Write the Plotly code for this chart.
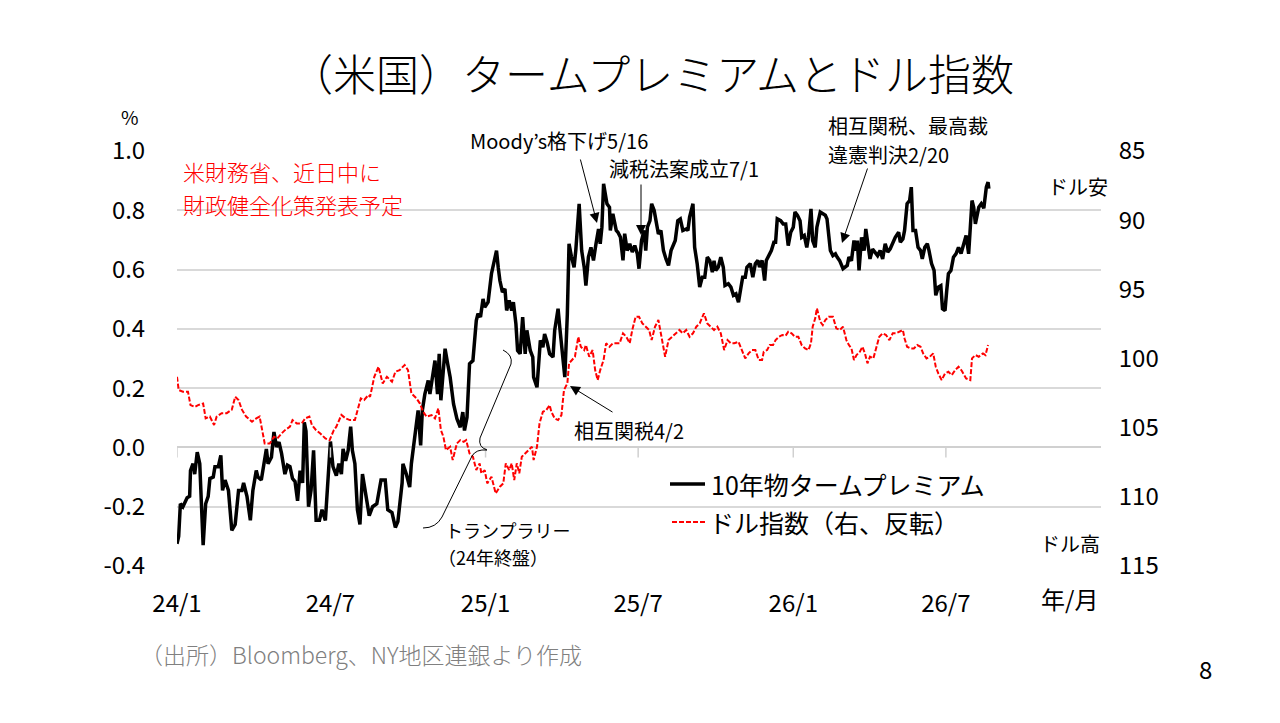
import pandas as pd
import plotly.graph_objects as go

FONT = "Noto Sans CJK JP"

# 10y term premium (%), day offsets from 2024-01-01
tp_day = [0, 2, 4, 7, 12, 15, 16, 19, 21, 24, 27, 31, 34, 37, 39, 43, 45, 49, 52, 54,
          57, 61, 65, 69, 73, 77, 79, 83, 87, 90, 94, 96, 100, 103, 106, 108, 112, 115, 118, 121,
          124, 128, 131, 134, 137, 140, 143, 146, 149, 151, 153, 156, 159, 162, 165, 169, 172, 176, 179, 182,
          185, 189, 192, 195, 197, 200, 203, 206, 208, 211, 214, 217, 220, 224, 228, 232, 237, 242, 247, 250,
          255, 259, 262, 267, 268, 272, 276, 278, 281, 284, 286, 289, 291, 294, 298, 300, 303, 306, 309, 311,
          313, 316, 318, 321, 324, 328, 332, 336, 339, 341, 344, 347, 351, 355, 357, 360, 363, 365, 369, 373,
          376, 379, 381, 383, 386, 389, 391, 394, 397, 399, 402, 404, 407, 410, 413, 415, 419, 422, 423, 427,
          431, 434, 436, 439, 442, 446, 448, 452, 454, 457, 460, 463, 465, 468, 471, 473, 477, 480, 483, 485,
          488, 491, 494, 497, 500, 502, 504, 506, 510, 513, 514, 517, 521, 523, 526, 529, 531, 534, 537, 540,
          543, 546, 548, 551, 554, 556, 558, 561, 563, 566, 569, 571, 574, 577, 580, 583, 586, 589, 591, 594,
          597, 600, 604, 606, 608, 612, 614, 617, 620, 623, 626, 629, 632, 635, 637, 639, 642, 645, 648, 650,
          654, 657, 660, 663, 666, 669, 671, 674, 676, 680, 683, 686, 689, 691, 694, 697, 699, 703, 705, 708,
          710, 712, 716, 719, 722, 725, 728, 731, 733, 736, 739, 741, 744, 747, 749, 752, 754, 757, 759, 763,
          766, 769, 771, 775, 778, 781, 783, 786, 790, 792, 795, 797, 800, 803, 805, 807, 809, 812, 815, 817,
          820, 822, 825, 828, 831, 834, 837, 840, 843, 846, 849, 852, 856, 858, 861, 863, 866, 869, 871, 873,
          876, 879, 882, 884, 887, 890, 892, 895, 898, 900, 903, 906, 908, 911, 913, 915, 918, 921, 924, 927,
          930, 933, 936, 939, 943, 945, 947, 951, 954, 957, 960, 962, 963]
tp_val = [-0.325, -0.30, -0.19, -0.20, -0.17, -0.165, -0.078, -0.055, -0.09, -0.016, -0.055, -0.33, -0.19, -0.165, -0.105, -0.10, -0.065, -0.065, -0.027, -0.145,
          -0.11, -0.145, -0.28, -0.26, -0.145, -0.145, -0.12, -0.165, -0.246, -0.145, -0.078, -0.10, -0.11, -0.065, -0.005, -0.055, -0.033, 0.052, 0.002, 0.018,
          -0.02, -0.09, -0.06, -0.065, -0.105, -0.115, -0.18, -0.078, -0.12, 0.085, 0.055, -0.20, -0.145, -0.01, -0.246, -0.246, -0.21, -0.246, -0.09, 0.02,
          -0.065, -0.095, -0.055, -0.09, -0.005, -0.045, -0.01, 0.07, -0.01, -0.055, -0.21, -0.26, -0.09, -0.17, -0.23, -0.20, -0.19, -0.11, -0.11, -0.21,
          -0.22, -0.27, -0.25, -0.12, -0.055, -0.09, -0.134, -0.055, 0.024, 0.08, 0.125, 0.007, 0.125, 0.18, 0.226, 0.18, 0.237, 0.293, 0.18, 0.316,
          0.159, 0.248, 0.333, 0.283, 0.237, 0.147, 0.097, 0.068, 0.119, 0.057, 0.102, 0.282, 0.293, 0.428, 0.451, 0.44, 0.501, 0.473, 0.49, 0.586,
          0.631, 0.664, 0.608, 0.563, 0.524, 0.535, 0.462, 0.496, 0.462, 0.49, 0.417, 0.327, 0.316, 0.44, 0.316, 0.395, 0.327, 0.305, 0.237, 0.203,
          0.361, 0.338, 0.383, 0.355, 0.316, 0.305, 0.395, 0.468, 0.406, 0.327, 0.237, 0.45, 0.687, 0.642, 0.608, 0.664, 0.822, 0.664, 0.608, 0.546,
          0.642, 0.675, 0.631, 0.687, 0.737, 0.687, 0.743, 0.889, 0.822, 0.81, 0.732, 0.788, 0.732, 0.726, 0.709, 0.631, 0.721, 0.664, 0.687, 0.659,
          0.681, 0.653, 0.603, 0.698, 0.732, 0.664, 0.743, 0.765, 0.822, 0.799, 0.749, 0.72, 0.732, 0.664, 0.636, 0.614, 0.664, 0.681, 0.698, 0.765,
          0.771, 0.732, 0.737, 0.732, 0.777, 0.822, 0.675, 0.62, 0.541, 0.574, 0.574, 0.642, 0.63, 0.591, 0.63, 0.597, 0.608, 0.642, 0.608, 0.546,
          0.552, 0.541, 0.513, 0.518, 0.49, 0.541, 0.574, 0.574, 0.608, 0.62, 0.574, 0.62, 0.631, 0.608, 0.631, 0.563, 0.631, 0.653, 0.664, 0.692,
          0.692, 0.771, 0.765, 0.754, 0.754, 0.681, 0.726, 0.743, 0.794, 0.783, 0.765, 0.709, 0.715, 0.675, 0.709, 0.805, 0.698, 0.675, 0.743, 0.794,
          0.788, 0.783, 0.771, 0.664, 0.647, 0.653, 0.642, 0.63, 0.603, 0.608, 0.614, 0.642, 0.63, 0.698, 0.664, 0.698, 0.597, 0.709, 0.664, 0.737,
          0.686, 0.636, 0.669, 0.659, 0.647, 0.664, 0.636, 0.687, 0.659, 0.67, 0.692, 0.709, 0.726, 0.692, 0.703, 0.732, 0.822, 0.833, 0.878, 0.732,
          0.732, 0.675, 0.664, 0.636, 0.675, 0.687, 0.664, 0.62, 0.597, 0.513, 0.541, 0.546, 0.468, 0.462, 0.529, 0.586, 0.597, 0.642, 0.653, 0.675,
          0.654, 0.687, 0.715, 0.653, 0.833, 0.81, 0.754, 0.81, 0.822, 0.807, 0.878, 0.895, 0.873]

# dollar index (right axis, inverted), day offsets from 2024-01-01
dxy_day = [0, 2, 7, 13, 16, 21, 25, 31, 34, 39, 44, 47, 53, 59, 65, 69, 73, 77, 82, 89,
           94, 98, 104, 110, 115, 119, 124, 128, 134, 137, 142, 148, 152, 157, 160, 165, 170, 176, 181, 186,
           189, 195, 200, 205, 211, 215, 218, 222, 227, 229, 234, 239, 244, 249, 255, 259, 264, 270, 274, 278,
           284, 288, 292, 296, 302, 306, 310, 313, 316, 319, 324, 327, 332, 336, 340, 343, 347, 351, 355, 359,
           361, 365, 368, 373, 378, 383, 387, 390, 394, 397, 400, 403, 406, 409, 413, 417, 421, 423, 427, 430,
           434, 438, 442, 444, 448, 452, 456, 459, 463, 465, 468, 472, 476, 479, 483, 485, 489, 493, 496, 499,
           502, 506, 509, 513, 517, 521, 525, 529, 533, 537, 540, 544, 548, 552, 556, 560, 563, 567, 571, 575,
           579, 583, 587, 591, 596, 600, 604, 608, 612, 616, 620, 625, 629, 633, 637, 641, 645, 649, 653, 657,
           661, 666, 670, 674, 678, 682, 686, 690, 694, 696, 700, 703, 707, 710, 714, 718, 722, 725, 729, 733,
           737, 741, 745, 749, 752, 754, 757, 759, 763, 766, 769, 773, 778, 782, 786, 790, 794, 797, 800, 803,
           806, 810, 813, 816, 819, 822, 826, 830, 833, 837, 841, 845, 849, 853, 857, 861, 863, 866, 870, 874,
           878, 882, 885, 889, 893, 897, 900, 903, 907, 911, 915, 919, 923, 927, 931, 936, 941, 943, 947, 951,
           956, 959, 962]
dxy_val = [101.32, 102.28, 102.4, 102.4, 103.37, 103.5, 103.37, 103.25, 104.33, 104.2, 104.81, 104.2, 103.95, 103.95, 103.7, 102.77, 103.0, 103.7, 104.2, 104.57,
           104.33, 104.2, 106.14, 106.14, 105.66, 105.78, 105.42, 105.18, 104.93, 104.45, 104.69, 104.69, 104.33, 104.2, 104.81, 105.18, 105.42, 105.78, 105.9, 105.18,
           104.93, 104.08, 104.33, 104.45, 104.45, 103.58, 102.88, 103.0, 102.64, 102.77, 101.32, 100.6, 101.8, 101.32, 101.68, 100.96, 100.84, 100.47, 100.84, 102.52,
           102.88, 103.24, 103.85, 104.21, 104.09, 104.33, 103.6, 105.17, 105.66, 106.62, 106.38, 107.34, 106.14, 105.9, 106.02, 105.9, 106.86, 107.1, 108.07, 107.58,
           108.3, 108.07, 109.03, 108.55, 109.75, 109.27, 109.03, 107.58, 108.07, 107.58, 108.79, 107.58, 108.3, 107.1, 106.86, 106.62, 106.38, 107.34, 106.38, 104.69,
           103.85, 103.73, 103.37, 103.85, 104.33, 104.45, 104.09, 102.28, 101.8, 100.35, 100.11, 99.87, 98.43, 99.15, 99.39, 99.03, 99.87, 99.39, 100.84, 101.56,
           100.84, 100.11, 98.9, 99.15, 98.9, 98.9, 98.9, 98.18, 98.43, 98.9, 97.94, 96.98, 96.98, 97.46, 97.7, 97.94, 98.67, 97.7, 97.22, 98.67,
           99.87, 98.67, 98.43, 98.18, 97.94, 98.18, 97.94, 98.43, 98.18, 97.7, 97.46, 96.74, 97.46, 97.7, 97.94, 97.7, 98.18, 99.39, 98.67, 98.9,
           98.9, 98.79, 99.39, 99.99, 99.63, 99.39, 99.39, 100.11, 100.11, 99.51, 99.39, 99.03, 99.03, 98.67, 98.43, 98.3, 98.35, 98.07, 98.18, 98.43,
           98.43, 99.03, 99.27, 99.39, 98.9, 97.7, 97.1, 96.37, 97.34, 97.58, 97.22, 96.98, 96.98, 97.82, 97.94, 97.7, 98.67, 99.03, 99.27, 100.11,
           99.75, 99.51, 99.15, 99.63, 100.35, 99.87, 99.99, 99.03, 98.43, 98.18, 98.3, 98.67, 98.18, 98.18, 98.07, 97.94, 98.55, 99.15, 99.27, 99.27,
           99.03, 99.15, 99.63, 99.99, 99.87, 99.63, 100.6, 101.08, 101.56, 101.08, 100.96, 101.2, 100.84, 100.6, 100.9, 101.44, 101.56, 99.99, 99.75, 99.87,
           99.63, 99.75, 99.03]

x_ticks = ["2024-01-01", "2024-07-01", "2025-01-01", "2025-07-01", "2026-01-01", "2026-07-01"]
x_labels = ["24/1", "24/7", "25/1", "25/7", "26/1", "26/7"]
y_ticks = [-0.4, -0.2, 0.0, 0.2, 0.4, 0.6, 0.8, 1.0]
y_labels = ["-0.4", "-0.2", "0.0", "0.2", "0.4", "0.6", "0.8", "1.0"]
y2_ticks = [85, 90, 95, 100, 105, 110, 115]

start = pd.Timestamp("2024-01-01")
tp_date = start + pd.to_timedelta(tp_day, unit="D")
dxy_date = start + pd.to_timedelta(dxy_day, unit="D")

# plot area in page pixels (the page body adds an 8px margin around the figure)
OFF = 8
L, R, T, B = 177, 1101, 151, 566
FW, FH = 1280 - 2 * OFF, 723 - 2 * OFF


def px(x, y):
    return (x - L) / (R - L), (B - y) / (B - T)


fig = go.Figure()
fig.add_trace(go.Scatter(x=dxy_date, y=dxy_val, yaxis="y2", mode="lines",
                         line=dict(color="#ff0000", width=2, dash="5px,2px"),
                         name="ドル指数（右、反転）"))
fig.add_trace(go.Scatter(x=tp_date, y=tp_val, mode="lines",
                         line=dict(color="black", width=3.5),
                         name="10年物タームプレミアム"))

fig.update_layout(
    width=FW, height=FH,
    margin=dict(l=L - OFF, r=OFF + FW - R, t=T - OFF, b=OFF + FH - B),
    paper_bgcolor="white", plot_bgcolor="white",
    showlegend=False,
    font=dict(family=FONT, color="black"),
    xaxis=dict(type="date", range=["2024-01-01", "2027-01-01"],
               tickvals=x_ticks, ticktext=x_labels, tickfont=dict(size=24),
               showgrid=False, zeroline=False, showline=False,
               ticks="outside", ticklen=16, tickcolor="rgba(0,0,0,0)"),
    yaxis=dict(range=[-0.4, 1.0], tickvals=y_ticks, ticktext=y_labels,
               tickfont=dict(size=24), showgrid=True, gridcolor="#d9d9d9", gridwidth=1.5,
               zeroline=True, zerolinecolor="#d0d0d0", zerolinewidth=2,
               ticks="outside", ticklen=26, tickcolor="rgba(0,0,0,0)"),
    yaxis2=dict(range=[115, 85], tickvals=y2_ticks, overlaying="y", side="right",
                tickfont=dict(size=24), showgrid=False, zeroline=False,
                ticks="outside", ticklen=12, tickcolor="rgba(0,0,0,0)"),
)

# small tick marks under the zero line
for d in x_ticks:
    fig.add_shape(type="line", xref="x", yref="y", x0=d, x1=d, y0=0, y1=-0.034,
                  line=dict(color="#d0d0d0", width=1.5))


def note(text, x, y, size=20, color="black", xanchor="left", weight=None):
    ax_, ay_ = px(x, y)
    f = dict(family=FONT, size=size, color=color)
    if weight:
        f["weight"] = weight
    fig.add_annotation(text=text, x=ax_, y=ay_, xref="paper", yref="paper",
                       xanchor=xanchor, yanchor="middle", align="left", showarrow=False,
                       font=f)


def arrow(x0, y0, x1, y1):
    hx, hy = px(x1, y1)
    fig.add_annotation(text="", x=hx, y=hy, xref="paper", yref="paper",
                       ax=x0 - x1, ay=y0 - y1, axref="pixel", ayref="pixel",
                       showarrow=True, arrowhead=2, arrowsize=2, arrowwidth=1,
                       arrowcolor="black")


# title and page texts
note("（米国）タームプレミアムとドル指数", 652, 72, size=43, xanchor="center", weight=300)
note("%", 130, 117, size=19, xanchor="center")
note("年/月", 1069, 598, size=24, xanchor="center")
note("ドル安", 1078, 186, size=20, xanchor="center")
note("ドル高", 1070, 543, size=20, xanchor="center")
note("（出所）Bloomberg、NY地区連銀より作成", 138, 654, size=23, color="#808080", weight=300)
note("8", 1205, 668, size=24, xanchor="center")

# red note
note("米財務省、近日中に", 181, 171, size=22, color="#ff0000", weight=300)
note("財政健全化策発表予定", 181, 204, size=22, color="#ff0000", weight=300)

# event notes
note("Moody’s格下げ5/16", 468, 140, size=20)
arrow(580, 158, 597, 223)
note("減税法案成立7/1", 607, 168, size=20)
arrow(641, 183, 641, 235)
note("相互関税、最高裁", 826, 125, size=20)
note("違憲判決2/20", 826, 155, size=20)
arrow(868, 167, 842, 243)
note("相互関税4/2", 572, 430, size=20)
arrow(614, 413, 570, 386)
note("トランプラリー", 443, 530, size=18)
note("（24年終盤）", 436, 557, size=18)

# brace for the rally
pts = [(503, 350), (513, 355), (511, 364), (480, 438), (478, 447), (487, 450),
       (476, 449), (472, 456), (442, 517), (436, 528), (423, 528)]
p = [px(*q) for q in pts]
path = ("M {0[0]},{0[1]} Q {1[0]},{1[1]} {2[0]},{2[1]} L {3[0]},{3[1]} "
        "Q {4[0]},{4[1]} {5[0]},{5[1]} Q {6[0]},{6[1]} {7[0]},{7[1]} "
        "L {8[0]},{8[1]} Q {9[0]},{9[1]} {10[0]},{10[1]}").format(*p)
fig.add_shape(type="path", path=path, xref="paper", yref="paper",
              line=dict(color="black", width=1))

# legend drawn by hand
x0, y0 = px(670, 484)
x1, _ = px(705, 484)
fig.add_shape(type="line", xref="paper", yref="paper", x0=x0, x1=x1, y0=y0, y1=y0,
              line=dict(color="black", width=3.5))
note("10年物タームプレミアム", 709, 484, size=25)
x0, y0 = px(672, 522)
fig.add_shape(type="line", xref="paper", yref="paper", x0=x0, x1=x1, y0=y0, y1=y0,
              line=dict(color="#ff0000", width=2, dash="5px,2px"))
note("ドル指数（右、反転）", 707, 522, size=25)

fig.write_html("out.html")
